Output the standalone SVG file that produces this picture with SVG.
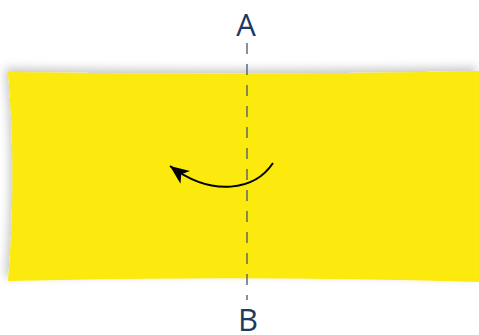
<svg xmlns="http://www.w3.org/2000/svg" width="479" height="335" viewBox="0 0 479 335">
<style>
.lbl{font-family:"Open Sans","Liberation Sans",sans-serif;font-size:31px;fill:#1d3a63;text-anchor:middle}
.fold{stroke:#4a5568;stroke-width:1.3;stroke-dasharray:11 10;fill:none}
.arc{stroke:#000;stroke-width:2;fill:none}
</style>
<defs>
<filter id="sh" x="-10%" y="-20%" width="120%" height="140%">
<feDropShadow dx="-3" dy="-4" stdDeviation="5" flood-color="#000" flood-opacity="0.22"/>
</filter>
<marker id="ah" markerUnits="userSpaceOnUse" markerWidth="24" markerHeight="24" refX="19" refY="9" orient="auto">
<path d="M19,9 L0,1 L5,9 L0,17 Z" fill="#000"/>
</marker>
</defs>
<g id="paper">
<path d="M8,72 Q240,76 479,71 L479,282 Q240,275 8,281 Q17,176 8,72 Z" fill="#FCE90C" filter="url(#sh)"/>
</g>
<g id="labels">
<text id="A" class="lbl" x="246" y="36">A</text>
<text id="B" class="lbl" x="248" y="331">B</text>
</g>
<g id="connectors">
<line class="fold" x1="247" y1="43" x2="247" y2="300"/>
<path class="arc" d="M273,163 C255,190 213,198 170,166" marker-end="url(#ah)"/>
</g>
</svg>
